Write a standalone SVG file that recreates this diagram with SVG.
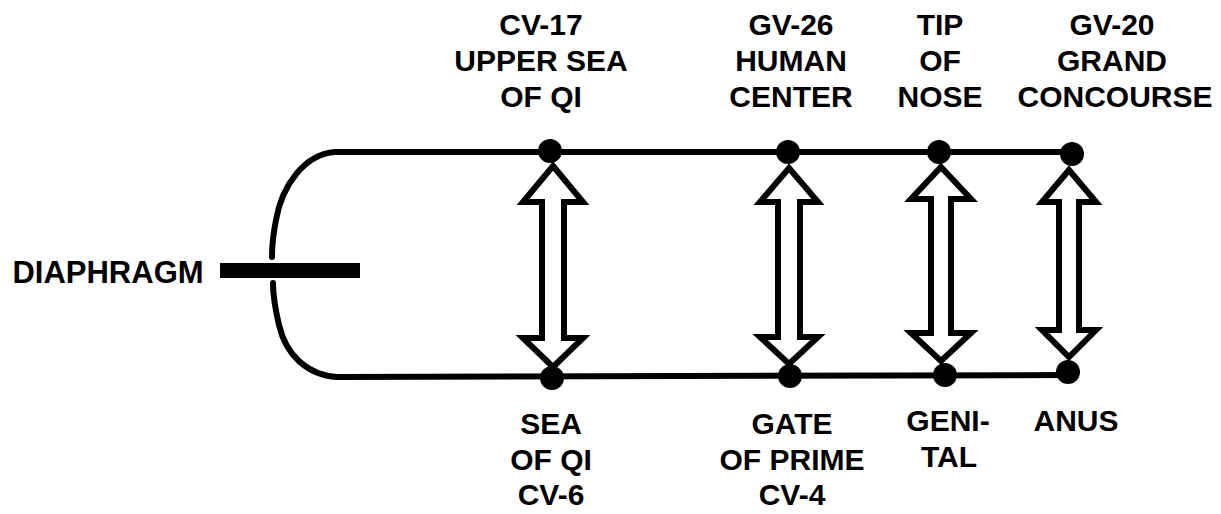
<svg xmlns="http://www.w3.org/2000/svg" width="1221" height="514" viewBox="0 0 1221 514">
<style>
.bg{fill:#fff}
.lbl{font-family:"Liberation Sans",Arial,sans-serif;font-weight:bold;font-size:30px;fill:#000;text-anchor:middle}
.wire{fill:none;stroke:#000;stroke-width:6;stroke-linecap:round}
.arrow{fill:#fff;stroke:#000;stroke-width:6;stroke-linejoin:miter}
.dot{fill:#000}
</style>
<rect class="bg" x="0" y="0" width="1221" height="514"/>
<g id="connectors">
<path class="wire" d="M 1072 152 L 335 152 C 305 154 282 185 276 220 C 273 235 272 248 272 257"/>
<path class="wire" d="M 1068 375 L 337 377 C 307 375 286 355 279 325 C 275 308 273 295 273 283"/>
<polygon class="arrow" points="553,166 583,202 564,202 564,338 583,338 553,367 523,338 542,338 542,202 523,202"/>
<polygon class="arrow" points="789,168 818,202 800,202 800,337 818,337 789,364 760,337 778,337 778,202 760,202"/>
<polygon class="arrow" points="941,167 971,199 951,199 951,333 971,333 941,361 911,333 931,333 931,199 911,199"/>
<polygon class="arrow" points="1069,170 1096,202 1079,202 1079,330 1096,330 1069,357 1042,330 1059,330 1059,202 1042,202"/>
</g>
<g id="diaphragm">
<rect x="220" y="263" width="140" height="15" fill="#000"/>
<text class="lbl" x="108" y="283" style="font-size:31px">DIAPHRAGM</text>
</g>
<g id="cv17">
<circle class="dot" cx="550" cy="151" r="12"/>
<text class="lbl" x="541" y="35">CV-17</text>
<text class="lbl" x="541" y="71">UPPER SEA</text>
<text class="lbl" x="541" y="107">OF QI</text>
</g>
<g id="gv26">
<circle class="dot" cx="788" cy="152" r="12"/>
<text class="lbl" x="791" y="35">GV-26</text>
<text class="lbl" x="791" y="71">HUMAN</text>
<text class="lbl" x="791" y="107">CENTER</text>
</g>
<g id="tipnose">
<circle class="dot" cx="939" cy="152" r="12"/>
<text class="lbl" x="940" y="35">TIP</text>
<text class="lbl" x="940" y="71">OF</text>
<text class="lbl" x="940" y="107">NOSE</text>
</g>
<g id="gv20">
<circle class="dot" cx="1072" cy="154" r="12"/>
<text class="lbl" x="1112" y="35">GV-20</text>
<text class="lbl" x="1112" y="71">GRAND</text>
<text class="lbl" x="1115" y="107">CONCOURSE</text>
</g>
<g id="cv6">
<circle class="dot" cx="552" cy="378" r="12"/>
<text class="lbl" x="551" y="434">SEA</text>
<text class="lbl" x="551" y="470">OF QI</text>
<text class="lbl" x="551" y="505">CV-6</text>
</g>
<g id="cv4">
<circle class="dot" cx="790" cy="376" r="12"/>
<text class="lbl" x="792" y="434">GATE</text>
<text class="lbl" x="792" y="470">OF PRIME</text>
<text class="lbl" x="792" y="505">CV-4</text>
</g>
<g id="genital">
<circle class="dot" cx="945" cy="375" r="12"/>
<text class="lbl" x="948" y="431">GENI-</text>
<text class="lbl" x="949" y="467">TAL</text>
</g>
<g id="anus">
<circle class="dot" cx="1068" cy="372" r="12"/>
<text class="lbl" x="1076" y="431">ANUS</text>
</g>
</svg>
